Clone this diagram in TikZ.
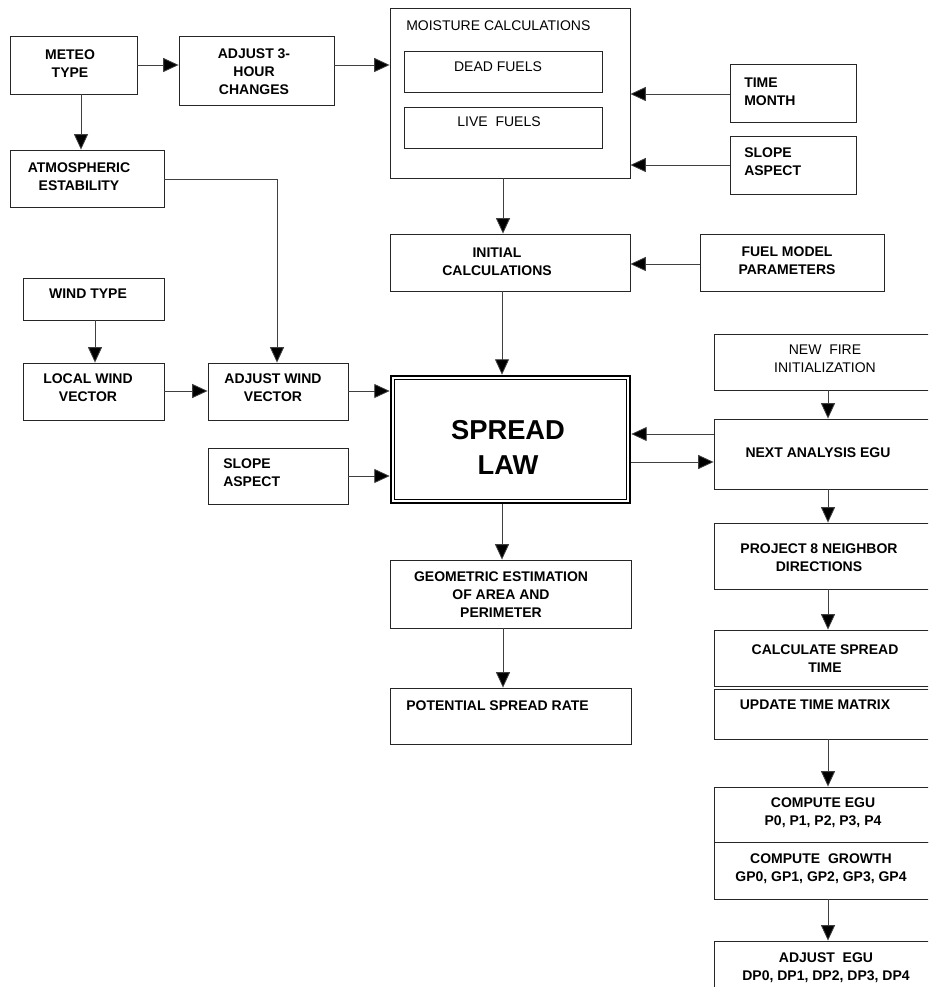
\documentclass[tikz,border=0pt]{standalone}
\usepackage{fontspec}
\setmainfont{Liberation Sans}
\usetikzlibrary{arrows.meta,fit}
\begin{document}
\begin{tikzpicture}[x=0.75pt,y=-0.75pt,
  box/.style={draw=black!85, line width=0.65pt, inner sep=0pt},
  lbl/.style={font=\fontsize{10.5}{13.5}\selectfont\bfseries, align=center, inner sep=0pt},
  lblr/.style={font=\fontsize{10.5}{13.5}\selectfont, align=center, inner sep=0pt},
  big/.style={font=\fontsize{20.5}{26}\selectfont\bfseries, align=center, inner sep=0pt},
  con/.style={draw=black!75, line width=0.6pt, -{Triangle[length=11.5pt,width=10.5pt,fill=black]}},
]
\useasboundingbox (0,0) rectangle (928,994);
\begin{scope}
\clip (0,0) rectangle (928,986);
% boxes
\node[box, fit={(10,36) (137,94)}] (meteo) {};
\node[box, fit={(179,36) (334,105)}] (adj3) {};
\node[box, fit={(10,150) (164,207)}] (atmo) {};
\node[box, fit={(390,8) (630,178)}] (moist) {};
\node[box, fit={(404,51) (602,92)}] (dead) {};
\node[box, fit={(404,107) (602,148)}] (live) {};
\node[box, fit={(730,64) (856,122)}] (timem) {};
\node[box, fit={(730,136) (856,194)}] (sloper) {};
\node[box, fit={(390,234) (630,291)}] (init) {};
\node[box, fit={(700,234) (884,291)}] (fuel) {};
\node[box, fit={(23,278) (164,320)}] (wind) {};
\node[box, fit={(23,363) (164,420)}] (local) {};
\node[box, fit={(208,363) (348,420)}] (adjw) {};
\node[box, fit={(208,448) (348,504)}] (slopel) {};
\node[draw=black, line width=2pt, inner sep=0pt, fit={(391,376) (630,503)}] (spread) {};
\draw[line width=1pt] ([shift={(5,5)}]spread.north west) rectangle ([shift={(-5,-5)}]spread.south east);
\node[box, fit={(714,334) (934,390)}] (newfire) {};
\node[box, fit={(714,419) (934,489)}] (next) {};
\node[box, fit={(714,523) (934,589)}] (proj) {};
\node[box, fit={(714,630) (934,686)}] (calc) {};
\node[box, fit={(714,689) (934,739)}] (upd) {};
\node[box, fit={(714,787) (934,842)}] (comp) {};
\node[box, fit={(714,842) (934,899)}] (growth) {};
\node[box, fit={(714,941) (934,1010)}] (adjegu) {};
\node[box, fit={(390,560) (631,628)}] (geo) {};
\node[box, fit={(390,688) (631,744)}] (pot) {};
% texts
\node[lbl] (t-meteo) at (70,63.5) {METEO\\TYPE};
\node[lbl] (t-adj3) at (254,72) {ADJUST 3-\\HOUR\\CHANGES};
\node[lbl] (t-atmo) at (79,176.5) {ATMOSPHERIC\\ESTABILITY};
\node[lblr, anchor=west] (t-moist) at (406,26) {MOISTURE CALCULATIONS};
\node[lblr] (t-dead) at (498,67) {DEAD FUELS};
\node[lblr] (t-live) at (499,122) {LIVE\ \ FUELS};
\node[lbl, align=left, anchor=west] (t-timem) at (744,92) {TIME\\MONTH};
\node[lbl, align=left, anchor=west] (t-sloper) at (744,162) {SLOPE\\ASPECT};
\node[lbl] (t-init) at (497,262) {INITIAL\\CALCULATIONS};
\node[lbl] (t-fuel) at (787,261) {FUEL MODEL\\PARAMETERS};
\node[lbl] (t-wind) at (88,294) {WIND TYPE};
\node[lbl] (t-local) at (88,388) {LOCAL WIND\\VECTOR};
\node[lbl] (t-adjw) at (273,388) {ADJUST WIND\\VECTOR};
\node[lbl, align=left, anchor=west] (t-slopel) at (223,472.5) {SLOPE\\ASPECT};
\node[big] (t-spread) at (508,447.5) {SPREAD\\LAW};
\node[lblr] (t-newfire) at (825,359) {NEW\ \ FIRE\\INITIALIZATION};
\node[lbl] (t-next) at (818,453) {NEXT ANALYSIS EGU};
\node[lbl] (t-proj) at (819,557.5) {PROJECT 8 NEIGHBOR\\DIRECTIONS};
\node[lbl] (t-calc) at (825,659) {CALCULATE SPREAD\\TIME};
\node[lbl] (t-upd) at (815,705) {UPDATE TIME MATRIX};
\node[lbl] (t-comp) at (823,813) {COMPUTE EGU\\P0, P1, P2, P3, P4};
\node[lbl] (t-growth) at (821,868.5) {COMPUTE\ \ GROWTH\\GP0, GP1, GP2, GP3, GP4};
\node[lbl] (t-adjegu) at (826,967.5) {ADJUST\ \ EGU\\DP0, DP1, DP2, DP3, DP4};
\node[lbl] (t-geo) at (501,595) {GEOMETRIC ESTIMATION\\OF AREA AND\\PERIMETER};
\node[lbl, anchor=west] (t-pot) at (406,706) {POTENTIAL SPREAD RATE};
% connectors
\draw[con] (meteo.east |- 0,65) -- (adj3.west |- 0,65);
\draw[con] (meteo.south -| 81,0) -- (atmo.north -| 81,0);
\draw[con] (adj3.east |- 0,65) -- (moist.west |- 0,65);
\draw[con] (atmo.east |- 0,179) -| (adjw.north -| 277,0);
\draw[con] (timem.west |- 0,94) -- (moist.east |- 0,94);
\draw[con] (sloper.west |- 0,165) -- (moist.east |- 0,165);
\draw[con] (moist.south -| 503,0) -- (init.north -| 503,0);
\draw[con] (fuel.west |- 0,264) -- (init.east |- 0,264);
\draw[con] (init.south -| 502,0) -- (spread.north -| 502,0);
\draw[con] (wind.south -| 95,0) -- (local.north -| 95,0);
\draw[con] (local.east |- 0,391) -- (adjw.west |- 0,391);
\draw[con] (adjw.east |- 0,391) -- (spread.west |- 0,391);
\draw[con] (slopel.east |- 0,476) -- (spread.west |- 0,476);
\draw[con] (newfire.south -| 828,0) -- (next.north -| 828,0);
\draw[con] (next.west |- 0,434) -- (spread.east |- 0,434);
\draw[con] (spread.east |- 0,462) -- (next.west |- 0,462);
\draw[con] (spread.south -| 502,0) -- (geo.north -| 502,0);
\draw[con] (geo.south -| 503,0) -- (pot.north -| 503,0);
\draw[con] (next.south -| 828,0) -- (proj.north -| 828,0);
\draw[con] (proj.south -| 828,0) -- (calc.north -| 828,0);
\draw[con] (upd.south -| 828,0) -- (comp.north -| 828,0);
\draw[con] (growth.south -| 828,0) -- (adjegu.north -| 828,0);
\end{scope}
\end{tikzpicture}
\end{document}
